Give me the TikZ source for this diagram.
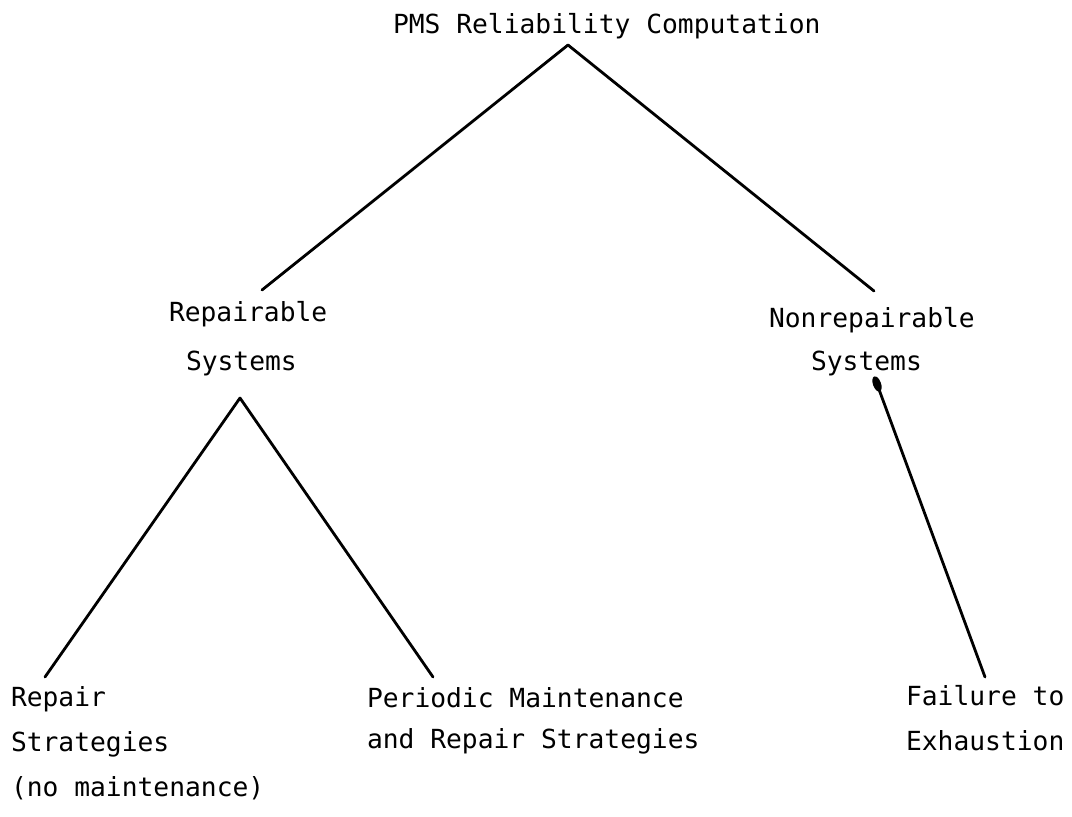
\documentclass[tikz,border=0pt]{standalone}
\usepackage{fontspec}
\newfontfamily\twfont{DejaVu Sans Mono}
\begin{document}
\begin{tikzpicture}[x=1pt,y=-1pt,
  lbl/.style={inner sep=0pt, outer sep=0pt, anchor=base west, align=left,
    font=\twfont\fontsize{26.3}{45}\selectfont},
  branch/.style={line width=2.8pt, line cap=round}]
\useasboundingbox (0,0) rectangle (1072,817);

% labels (anchored at the baseline of their last line)
\node[lbl] (root) at (393,33) {PMS Reliability Computation};
\node[lbl] (rep)  at (169,370) {Repairable\\[4pt]\hspace*{17pt}Systems};
\node[lbl] (non)  at (769,370) {Nonrepairable\\[-2pt]\hspace*{42pt}Systems};
\node[lbl] (rst)  at (11,796) {Repair\\Strategies\\(no maintenance)};
\node[lbl] (pms)  at (367,748) {Periodic Maintenance\\[-4pt]and Repair Strategies};
\node[lbl] (fte)  at (906,750) {Failure to\\Exhaustion};

% connector end points
\coordinate (rootTip) at (568,45);
\coordinate (repUp)   at (262,290);
\coordinate (nonUp)   at (874,291);
\coordinate (repTip)  at (240,398);
\coordinate (rstUp)   at (45,677);
\coordinate (pmsUp)   at (433,677);
\coordinate (nonTip)  at (877,384);
\coordinate (fteUp)   at (985,677);

% branches
\draw[branch] (rootTip) -- (repUp);
\draw[branch] (rootTip) -- (nonUp);
\draw[branch] (repTip) -- (rstUp);
\draw[branch] (repTip) -- (pmsUp);
\draw[branch] (nonTip) -- (fteUp);
\fill[rotate around={20:(nonTip)}] (nonTip) ellipse [x radius=4pt, y radius=8pt];
\end{tikzpicture}
\end{document}
